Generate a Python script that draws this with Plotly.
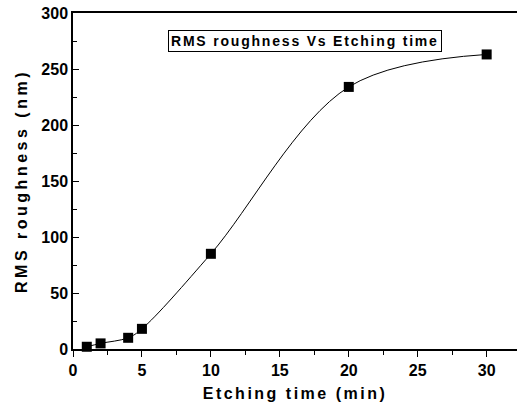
import plotly.graph_objects as go

etching_time = [1, 2, 4, 5, 10, 20, 30]
rms_roughness = [2, 5, 10, 18, 85, 234, 263]

fig = go.Figure()
fig.add_trace(go.Scatter(
    x=etching_time, y=rms_roughness, mode="lines+markers",
    line=dict(color="black", width=1, shape="spline", smoothing=1.0),
    marker=dict(symbol="square", size=10, color="black"),
    cliponaxis=False, showlegend=False,
))

FAM = "Liberation Sans"
tickfont = dict(family=FAM, size=16, color="black", weight="bold")
titlefont = dict(family=FAM, size=16, color="black", weight="bold")

def spaced(t, px):
    return f'<span style="letter-spacing:{px}px">{t}</span>'

fig.update_layout(
    width=517, height=404,
    margin=dict(l=73, r=0, t=13, b=55),
    paper_bgcolor="white", plot_bgcolor="white",
    xaxis=dict(
        range=[0, 32.2], dtick=5, tick0=0, ticks="outside", ticklen=6, tickwidth=1,
        tickcolor="black", showline=True, linecolor="black", linewidth=1.5,
        mirror=True, showgrid=False, zeroline=False, tickfont=tickfont,
        minor=dict(dtick=2.5, ticks="outside", ticklen=4, tickcolor="black"),
        title=dict(text=spaced("Etching time (min)", 2.5), font=titlefont, standoff=10),
    ),
    yaxis=dict(
        range=[0, 300], dtick=50, tick0=0, ticks="inside", ticklen=6, tickwidth=1,
        tickcolor="black", showline=True, linecolor="black", linewidth=1.5,
        mirror=False, showgrid=False, zeroline=False, tickfont=tickfont,
        minor=dict(dtick=25, ticks="inside", ticklen=4, tickcolor="black"),
        title=dict(text=spaced("RMS roughness (nm)", 3.5), font=titlefont, standoff=10),
    ),
    annotations=[dict(
        text=spaced("RMS roughness Vs Etching time", 1.8), xref="paper", yref="paper",
        showarrow=False,
        font=dict(family=FAM, size=14, color="black", weight="bold"),
        bordercolor="black", borderwidth=1, borderpad=2, bgcolor="white",
    )],
)
W, H = 517 - 73, 404 - 13 - 55
fig.layout.annotations[0].x = (305 - 73) / W
fig.layout.annotations[0].y = 1 - (30 - 13) / H

fig.write_html("out.html")
